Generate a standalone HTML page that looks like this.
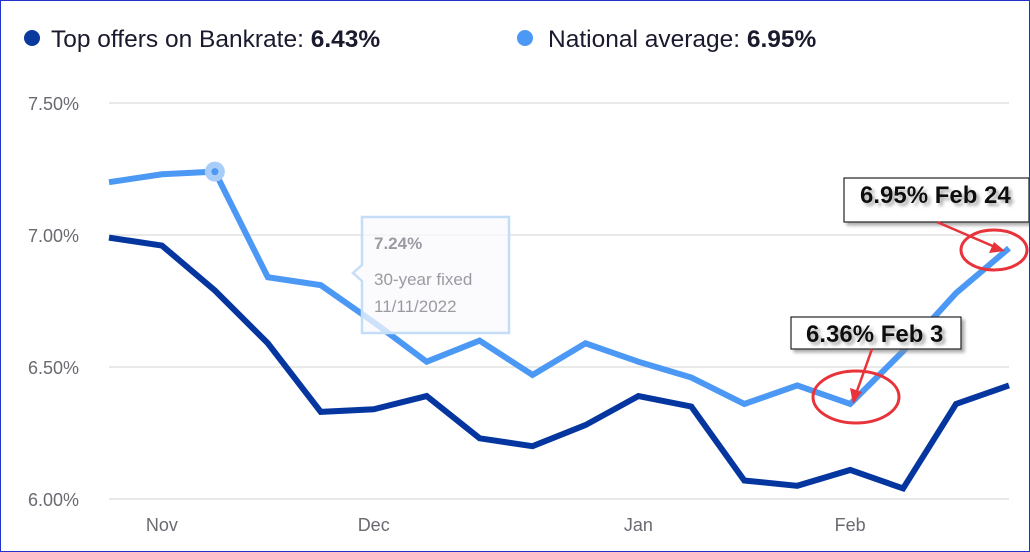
<!DOCTYPE html>
<html><head><meta charset="utf-8"><style>
body{margin:0;background:#fff;font-family:"Liberation Sans",sans-serif}
#wrap{position:relative;width:1028px;height:550px;border:1px solid #2233cc;overflow:hidden;background:#fff}
</style></head><body>
<div id="wrap">
<svg id="chart" width="1028" height="550">
<defs><filter id="sh" x="-10%" y="-10%" width="130%" height="140%"><feDropShadow dx="3" dy="3" stdDeviation="1.5" flood-color="#888" flood-opacity="0.7"/></filter></defs>
<g>
<circle cx="31" cy="37" r="8" fill="#0a3a9e"/>
<text x="50" y="46" font-size="24.5" fill="#1a1a2e">Top offers on Bankrate: <tspan font-weight="bold">6.43%</tspan></text>
<circle cx="524" cy="37" r="8" fill="#4c98f5"/>
<text x="547" y="46" font-size="24.5" fill="#1a1a2e">National average: <tspan font-weight="bold">6.95%</tspan></text>
</g>
<g id="grid"></g><g id="xlab"></g><g id="lines"></g>
<g>
<path d="M361,216 H508 V332 H361 V280 L352,272 L361,264 Z" fill="rgba(250,250,252,0.75)" stroke="#c5def8" stroke-width="2.5"/>
<text x="373" y="248" font-size="17" font-weight="bold" fill="#9a9aa2">7.24%</text>
<text x="373" y="284" font-size="17" fill="#9a9aa2">30-year fixed</text>
<text x="373" y="311" font-size="17" fill="#9a9aa2">11/11/2022</text>
</g>
<g>
<rect x="843" y="177" width="185" height="44" fill="#fff" stroke="#222" stroke-width="1.2" filter="url(#sh)"/>
<text x="859" y="202" font-size="24" font-weight="bold" fill="#111" filter="url(#sh)">6.95% Feb 24</text>
<ellipse cx="993" cy="249" rx="33" ry="20" fill="none" stroke="#e8333a" stroke-width="3"/>
<line x1="936" y1="221" x2="994" y2="246" stroke="#e8333a" stroke-width="2.5"/>
<polygon points="1004,250 988,252 993,241" fill="#e8333a"/>
</g>
<g>
<rect x="790" y="316" width="170" height="32" fill="#fff" stroke="#222" stroke-width="1.2" filter="url(#sh)"/>
<text x="805" y="341" font-size="24" font-weight="bold" fill="#111" filter="url(#sh)">6.36% Feb 3</text>
<ellipse cx="855" cy="396" rx="43" ry="26" fill="none" stroke="#e8333a" stroke-width="3"/>
<line x1="871" y1="348" x2="856" y2="390" stroke="#e8333a" stroke-width="2.5"/>
<polygon points="852,403 849,387 861,391" fill="#e8333a"/>
</g>
</svg>
</div>
<script>
const dates=["Oct 28","Nov 4","Nov 11","Nov 18","Nov 25","Dec 2","Dec 9","Dec 16","Dec 23","Dec 30","Jan 6","Jan 13","Jan 20","Jan 27","Feb 3","Feb 10","Feb 17","Feb 24"];
const topOffers=[6.99,6.96,6.79,6.59,6.33,6.34,6.39,6.23,6.20,6.28,6.39,6.35,6.07,6.05,6.11,6.04,6.36,6.43];
const nationalAvg=[7.20,7.23,7.24,6.84,6.81,6.67,6.52,6.60,6.47,6.59,6.52,6.46,6.36,6.43,6.36,6.56,6.78,6.95];
const yTicks=[6.00,6.50,7.00,7.50];
const xLabels=["Nov","Dec","Jan","Feb"];
const xLabelIdx=[1,5,10,14];
const NS="http://www.w3.org/2000/svg";
const x=i=>108+i*(900/(dates.length-1));
const y=v=>498-(v-6)*264;
function mk(t,a,p){const e=document.createElementNS(NS,t);for(const k in a)e.setAttribute(k,a[k]);p.appendChild(e);return e;}
const grid=document.getElementById('grid');
yTicks.forEach(v=>{
 const l=mk('line',{x1:108,x2:1008,y1:y(v),y2:y(v),stroke:'#e2e2e2','stroke-width':1.5},grid);
 
 
 const t=mk('text',{x:78,y:y(v)+7,'font-size':18,fill:'#6a6a72','text-anchor':'end'},grid);
 t.textContent=v.toFixed(2)+'%';
 
 
});
const xl=document.getElementById('xlab');
xLabels.forEach((s,k)=>{
 const t=mk('text',{x:x(xLabelIdx[k]),y:530,'font-size':18,fill:'#6a6a72','text-anchor':'middle'},xl);
 t.textContent=s;
 
 
});
const lines=document.getElementById('lines');
function series(vals,color,name){
 const p=mk('polyline',{points:vals.map((v,i)=>x(i)+','+y(v)).join(' '),fill:'none',stroke:color,'stroke-width':6,'stroke-linejoin':'miter'},lines);
 
 
}
series(topOffers,'#0536a0','top-offers-line');
series(nationalAvg,'#4c98f5','national-average-line');
const hc=mk('circle',{cx:x(2),cy:y(nationalAvg[2]),r:10,fill:'#a9cdf9'},lines);


mk('circle',{cx:x(2),cy:y(nationalAvg[2]),r:3.5,fill:'#4c98f5'},lines);
</script>
</body></html>
